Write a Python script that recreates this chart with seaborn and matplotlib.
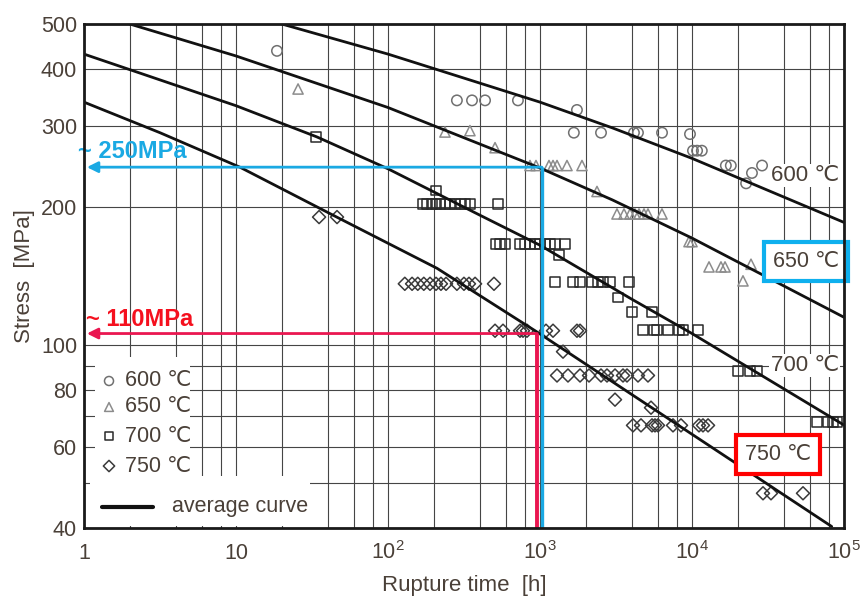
import matplotlib
matplotlib.use("Agg")
import matplotlib.pyplot as plt
from matplotlib.patches import Rectangle
from matplotlib.lines import Line2D
from matplotlib.ticker import FixedLocator, FixedFormatter, NullFormatter
import pandas as pd
import seaborn as sns

# Creep-rupture test results: rupture time [h] and applied stress [MPa]
t600 = [18.6, 284, 357, 435, 716, 1750, 1670, 2520, 4150, 4410, 6350, 9700,
        10150, 10800, 11600, 16700, 18000, 22700, 24800, 28900]
s600 = [437, 341, 341, 341, 341, 325, 290, 290, 290, 290, 290, 288,
        265, 265, 265, 246, 246, 225, 237, 246]

t650 = [25.6, 237, 346, 506, 859, 941, 1146, 1218, 1294, 1505, 1889, 2371,
        3210, 3570, 3910, 4217, 4480, 4832, 5133, 6346, 9557, 10000,
        12940, 15510, 16490, 21650, 24440]
s650 = [361, 291, 293, 269, 246, 246, 246, 246, 246, 246, 246, 216,
        193, 193, 193, 193, 193, 193, 193, 193, 168, 168,
        148, 148, 148, 138, 150]

t700 = [33.6, 207,
        170, 181, 195, 207, 220, 237, 256, 276, 302, 321, 346, 529,
        513, 546, 588, 739, 797, 859, 927, 1000, 1079, 1164, 1255, 1460,
        1334,
        1255, 1649, 1834, 2199, 2407, 2597, 2887, 3851,
        3260, 4030, 5456,
        4760, 5623, 5884, 6952, 8212, 8727, 10950,
        20070, 24070, 26770,
        66440, 78470, 84650, 89940]
s700 = [284, 217,
        203, 203, 203, 203, 203, 203, 203, 203, 203, 203, 203, 203,
        166, 166, 166, 166, 166, 166, 166, 166, 166, 166, 166, 166,
        157,
        137, 137, 137, 137, 137, 137, 137, 137,
        127, 118, 118,
        108, 108, 108, 108, 108, 108, 108,
        88, 88, 88,
        68, 68, 68, 68]

t750 = [35.2, 46.2,
        129, 144, 157, 172, 189, 207, 223, 241, 284, 316, 341, 374, 498,
        506, 571, 739, 773, 821, 1095, 1218, 1751, 1834,
        1417,
        1294, 1528, 1834, 2101, 2519, 2759, 3115, 3517, 3736, 4413, 5133,
        3115, 5374,
        4091, 4618, 5456, 5710, 5975, 7499, 8464, 11120, 11810, 12750,
        29320, 33090, 53740]
s750 = [190, 190,
        136, 136, 136, 136, 136, 136, 136, 136, 136, 136, 136, 136, 136,
        107.5, 107.5, 107.5, 107.5, 107.5, 107.5, 107.5, 107.5, 107.5,
        96.8,
        85.9, 85.9, 85.9, 85.9, 85.9, 85.9, 85.9, 85.9, 85.9, 85.9, 85.9,
        76.1, 73.1,
        66.9, 66.9, 66.9, 66.9, 66.9, 66.9, 66.9, 66.9, 66.9, 66.9,
        47.6, 47.6, 47.6]

# Average curves
curve_t600 = [20, 100, 1000, 3000, 1e4, 1e5]
curve_s600 = [500, 430, 338, 297, 255, 185]
curve_t650 = [2, 10, 100, 1000, 3000, 1e4, 1e5]
curve_s650 = [500, 426, 329, 243, 207, 171, 115]
curve_t700 = [1, 10, 34, 100, 400, 1000, 4000, 1e4, 1e5]
curve_s700 = [430, 332, 284, 242, 192, 165, 126, 106, 67]
curve_t750 = [1, 3.16, 10.6, 46, 210, 970, 5300, 83000]
curve_s750 = [338, 290, 244, 190, 147, 106.5, 73.5, 40.3]

temperatures = ["600 ℃", "650 ℃", "700 ℃", "750 ℃"]

# Read-off at 1000 h for 650 ℃ and 750 ℃
readoff_time = 1000
readoff_650 = 244
readoff_750 = 106

x_ticks = [1, 10, 100, 1000, 10000, 100000]
x_ticklabels = ["1", "10", r"$\mathregular{10^{2}}$", r"$\mathregular{10^{3}}$",
                r"$\mathregular{10^{4}}$", r"$\mathregular{10^{5}}$"]
y_ticks = [40, 50, 60, 70, 80, 90, 100, 200, 300, 400, 500]
y_ticklabels = ["40", "", "60", "", "80", "", "100", "200", "300", "400", "500"]

sns.set_theme(style="white")
FONT = "Liberation Sans"
plt.rcParams["font.family"] = [FONT, "DejaVu Sans"]
plt.rcParams["mathtext.fontset"] = "custom"
plt.rcParams["mathtext.rm"] = FONT

TXT = "#4a4038"
BLUE = "#1aa9e3"
BLUE_BOX = "#0fb0ee"
RED_LINE = "#ea1650"
RED_TXT = "#f5101e"
RED_BOX = "#ff0000"

fig = plt.figure(figsize=(8.61, 5.98), dpi=100)
ax = fig.add_axes([84 / 861, 1 - 528 / 598, 760 / 861, 504 / 598])
ax.set_xscale("log")
ax.set_yscale("log")
ax.set_xlim(1, 1e5)
ax.set_ylim(40, 500)

# grid
ax.xaxis.set_major_locator(FixedLocator(x_ticks))
ax.xaxis.set_major_formatter(FixedFormatter(x_ticklabels))
minor_x = [m * 10 ** e for e in range(0, 5) for m in (2, 4, 6, 8)]
ax.xaxis.set_minor_locator(FixedLocator(minor_x))
ax.xaxis.set_minor_formatter(NullFormatter())
ax.yaxis.set_major_locator(FixedLocator(y_ticks))
ax.yaxis.set_major_formatter(FixedFormatter(y_ticklabels))
ax.yaxis.set_minor_locator(FixedLocator([]))
ax.set_axisbelow(True)
ax.grid(True, which="both", axis="x", color="#454545", lw=0.8)
ax.grid(True, which="major", axis="y", color="#454545", lw=0.8)

ax.tick_params(axis="x", which="both", direction="in", length=5, width=0.8,
               color="#333333", labelsize=15.5, labelcolor=TXT, pad=22)
ax.tick_params(axis="y", which="both", direction="in", length=0,
               labelsize=15.5, labelcolor=TXT, pad=5)
for lab in ax.get_xticklabels():
    lab.set_verticalalignment("baseline")

for sp in ax.spines.values():
    sp.set_color("#1a1a1a")
    sp.set_linewidth(2.0)
    sp.set_zorder(6)

# measured points
series = [
    (t600, s600, "o", 56, "#707070"),
    (t650, s650, "^", 54, "#8c8c8c"),
    (t700, s700, "s", 50, "#2a2a2a"),
    (t750, s750, "D", 44, "#3a3a3a"),
]
for tt, ss, mk, size, col in series:
    df = pd.DataFrame({"time": tt, "stress": ss})
    sns.scatterplot(data=df, x="time", y="stress", marker=mk, s=size,
                    facecolors="none", edgecolor=col, linewidth=1.1,
                    ax=ax, zorder=3, legend=False)

# average curves
for ct, cs in [(curve_t600, curve_s600), (curve_t650, curve_s650),
               (curve_t700, curve_s700), (curve_t750, curve_s750)]:
    dfc = pd.DataFrame({"time": ct, "stress": cs})
    sns.lineplot(data=dfc, x="time", y="stress", estimator=None, sort=False,
                 color="#111111", lw=2.0, ax=ax, zorder=3)

ax.set_xlabel("Rupture time  [h]", fontsize=16, color=TXT, labelpad=8)
ax.set_ylabel("Stress  [MPa]", fontsize=16, color=TXT, labelpad=4)

# curve labels
lab_kw = dict(fontsize=16, color=TXT, ha="center", va="center", zorder=5)
box_kw = dict(fontsize=15.5, color=TXT, ha="center", va="center", zorder=5)
ax.text(55300, 234, temperatures[0], bbox=dict(fc="white", ec="none", pad=1), **lab_kw)
ax.text(56200, 152, temperatures[1],
        bbox=dict(boxstyle="square,pad=0.4", fc="white", ec=BLUE_BOX, lw=3), **box_kw)
ax.text(55300, 90.3, temperatures[2], bbox=dict(fc="white", ec="none", pad=1), **lab_kw)
ax.text(36800, 57.8, temperatures[3],
        bbox=dict(boxstyle="square,pad=0.4", fc="white", ec=RED_BOX, lw=3), **box_kw)

# read-off guides at 1000 h
blue_t = readoff_time * 1.03
red_t = readoff_time * 0.96
ax.plot([blue_t, blue_t], [readoff_650, 40], color=BLUE, lw=2.4, zorder=4,
        solid_capstyle="butt")
ax.annotate("", xy=(1.045, readoff_650), xytext=(blue_t, readoff_650),
            arrowprops=dict(arrowstyle="-|>", color=BLUE, lw=2.0,
                            mutation_scale=16, shrinkA=0, shrinkB=0), zorder=4)
ax.plot([red_t, red_t], [readoff_750, 40], color=RED_LINE, lw=2.8, zorder=4,
        solid_capstyle="butt")
ax.annotate("", xy=(1.045, readoff_750), xytext=(red_t, readoff_750),
            arrowprops=dict(arrowstyle="-|>", color=RED_LINE, lw=2.0,
                            mutation_scale=16, shrinkA=0, shrinkB=0), zorder=4)
bold_kw = dict(fontsize=17, fontweight="bold", ha="left", va="center",
               family=["Liberation Sans", "DejaVu Sans"], zorder=5)
ax.text(0.913, 264, "~ 250MPa", color=BLUE, clip_on=False, **bold_kw)
ax.text(1.03, 113.6, "~ 110MPa", color=RED_TXT, clip_on=False, **bold_kw)

# legend panel
ax.add_patch(Rectangle((0.0145, 0.1032), 0.125, 0.236, transform=ax.transAxes,
                       fc="white", ec="none", zorder=2))
ax.add_patch(Rectangle((0.0079, 0.004), 0.2895, 0.0995, transform=ax.transAxes,
                       fc="white", ec="none", zorder=2))
leg_rows = [0.2917, 0.2401, 0.1825, 0.1230]
for (tt, ss, mk, size, col), yy, name in zip(series, leg_rows, temperatures):
    ax.scatter([0.0329], [yy], marker=mk, s=size * 0.75, facecolors="none",
               edgecolors=col, linewidths=1.1, transform=ax.transAxes, zorder=3)
    ax.text(0.054, yy, name, transform=ax.transAxes, fontsize=15.5, color=TXT,
            va="center", ha="left", zorder=3)
ax.add_line(Line2D([0.0237, 0.0908], [0.0417, 0.0417], transform=ax.transAxes,
                   color="#111111", lw=3, zorder=3))
ax.text(0.1158, 0.0417, "average curve", transform=ax.transAxes, fontsize=15.5,
        color=TXT, va="center", ha="left", zorder=3)

fig.savefig("out.png", dpi=100)
